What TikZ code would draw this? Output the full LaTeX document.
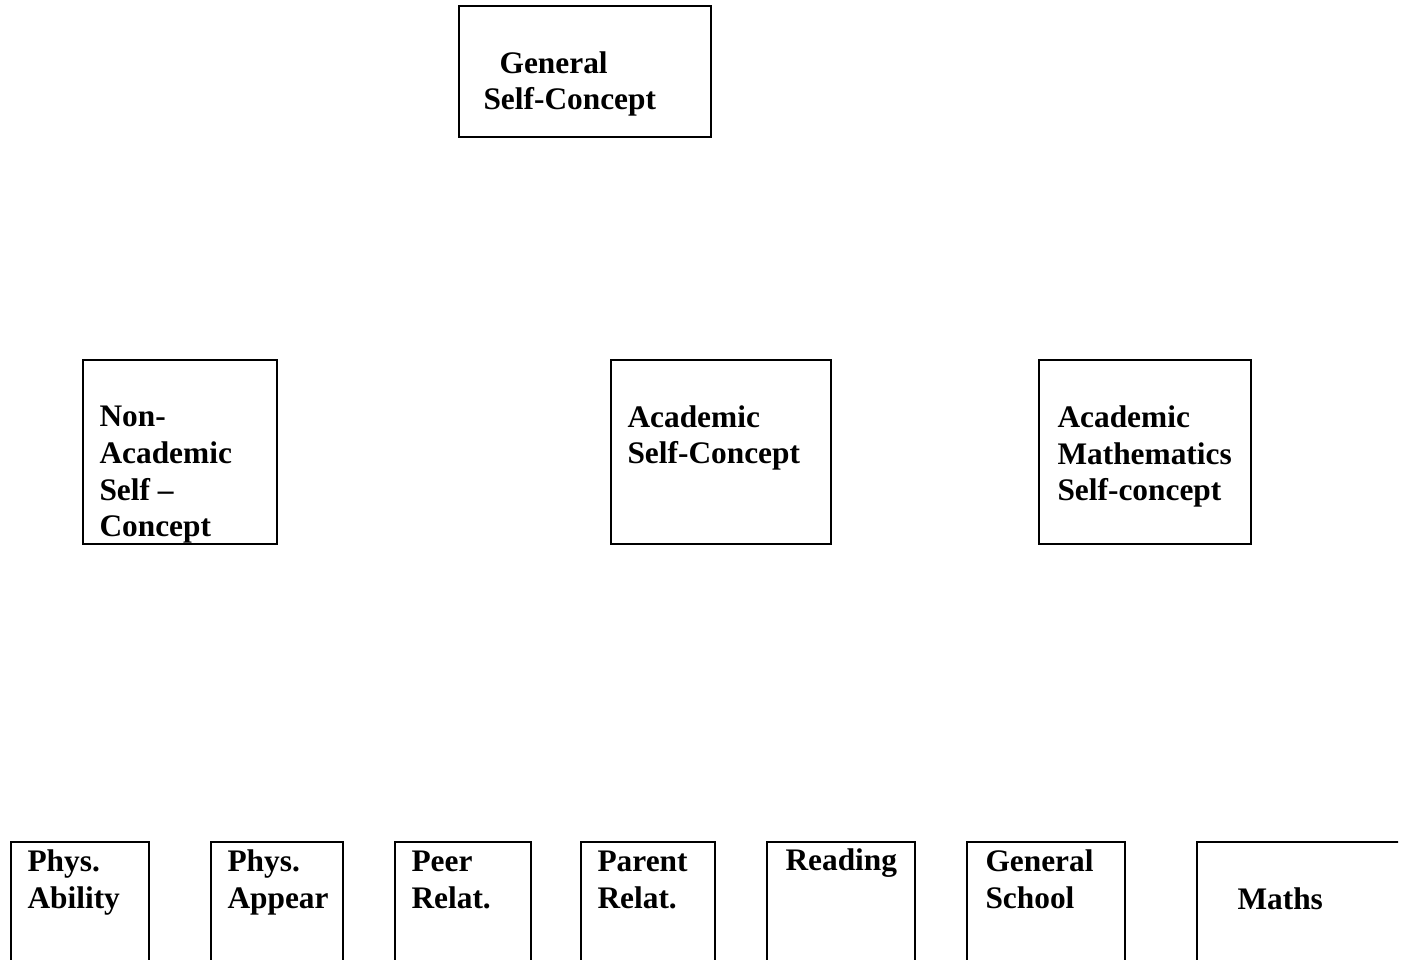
\documentclass[tikz,border=0pt]{standalone}
\usepackage{fontspec}
\setmainfont{Liberation Serif}
\usetikzlibrary{fit}

\begin{document}
\begin{tikzpicture}[x=0.373pt, y=-0.373pt,
    box/.style={draw, line width=0.75pt, inner sep=0pt},
    lbl/.style={anchor=base west, align=left, inner sep=0pt, font=\bfseries\fontsize{11.7}{13.7}\selectfont}]
    \useasboundingbox (0,0) rectangle (1405,960);
    \clip (0,0) rectangle (1398,960);

    % top level (labels sit on the baseline of their last line)
    \node[box, fit={(459,6) (711,137)}] (gsc) {};
    \node[lbl] (gsct) at (483,110) {\hspace{6pt}General\\Self-Concept};

    % middle level
    \node[box, fit={(83,360) (277,544)}] (nasc) {};
    \node[lbl] (nasct) at (99,537) {Non-\\Academic\\Self --\\Concept};
    \node[box, fit={(611,360) (831,544)}] (asc) {};
    \node[lbl] (asct) at (627,464) {Academic\\Self-Concept};
    \node[box, fit={(1039,360) (1251,544)}] (amsc) {};
    \node[lbl] (amsct) at (1057,501) {Academic\\Mathematics\\Self-concept};

    % bottom level (runs off the page)
    \node[box, fit={(11,842) (149,980)}] (pa) {};
    \node[lbl] (pat) at (27,908) {Phys.\\Ability};
    \node[box, fit={(211,842) (343,980)}] (pap) {};
    \node[lbl] (papt) at (227,908) {Phys.\\Appear};
    \node[box, fit={(395,842) (531,980)}] (pr) {};
    \node[lbl] (prt) at (411,908) {Peer\\Relat.};
    \node[box, fit={(581,842) (715,980)}] (par) {};
    \node[lbl] (part) at (597,908) {Parent\\Relat.};
    \node[box, fit={(767,842) (915,980)}] (rd) {};
    \node[lbl] (rdt) at (785,871) {Reading};
    \node[box, fit={(967,842) (1125,980)}] (gs) {};
    \node[lbl] (gst) at (985,908) {General\\School};
    \node[box, fit={(1197,842) (1420,980)}] (ma) {};
    \node[lbl] (mat) at (1237,909) {Maths};
\end{tikzpicture}
\end{document}
